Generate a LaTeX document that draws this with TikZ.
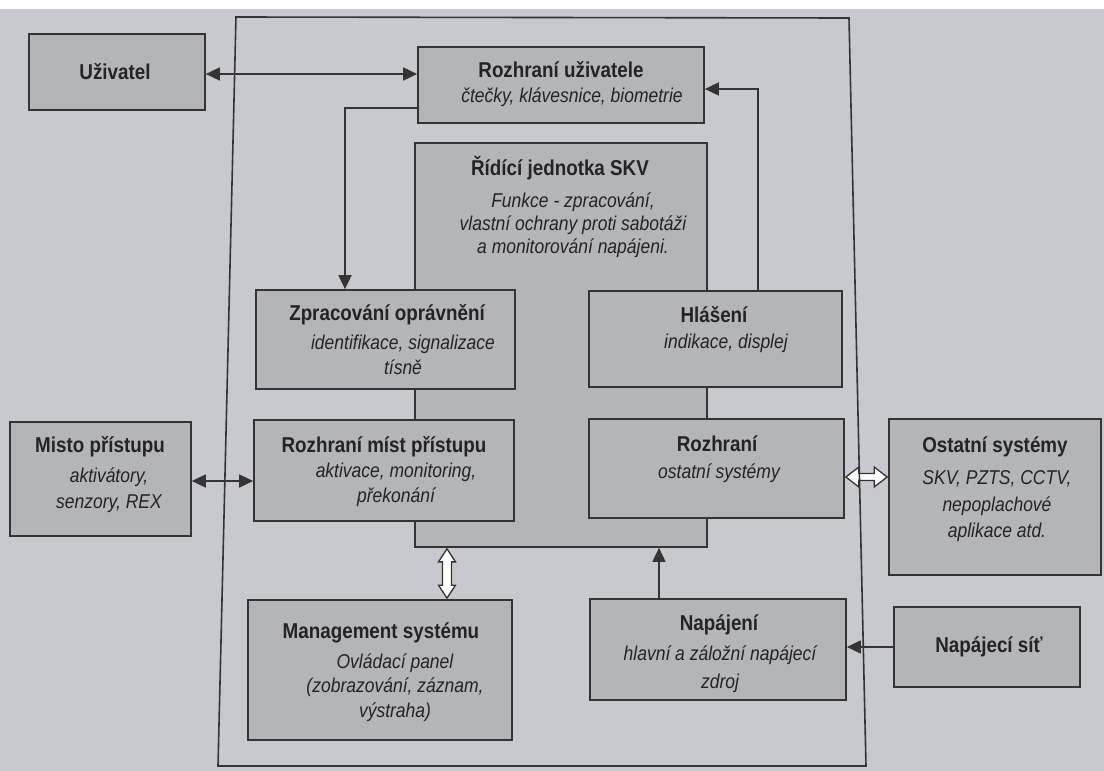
\documentclass[tikz,border=0pt]{standalone}
\usepackage{fontspec}
\setmainfont{Liberation Sans}
\newfontfamily\narrowfont[FakeStretch=0.875]{Liberation Sans}
\usetikzlibrary{arrows.meta,calc}
\definecolor{pagebg}{RGB}{199,201,207}
\definecolor{boxbg}{RGB}{180,181,185}
\definecolor{linec}{RGB}{52,52,55}
\definecolor{textc}{RGB}{36,36,38}
\tikzset{
  box/.style={draw=linec, fill=boxbg, line width=1.7pt, inner sep=0pt, rectangle},
  ttl/.style={font=\narrowfont\bfseries\fontsize{21.5}{25}\selectfont, text=textc, inner sep=0pt},
  sub/.style={font=\narrowfont\itshape\fontsize{20}{#1}\selectfont, text=textc, inner sep=0pt, align=center},
  sub/.default=24,
  arr/.style={draw=linec, line width=1.7pt, -{Triangle[length=14pt,width=13pt]}},
  biarr/.style={draw=linec, line width=1.7pt, {Triangle[length=14pt,width=13pt]}-{Triangle[length=14pt,width=13pt]}},
  hollow/.style={draw=linec, fill=white, line width=1.3pt, line join=miter},
  frame/.style={draw=linec, line width=1.6pt}
}
\newcommand{\bx}[5]{\node[box, minimum width={#4-#2}, minimum height={#5-#3}] (#1) at ({(#2+#4)/2},{(#3+#5)/2}) {};}
\begin{document}
\begin{tikzpicture}[x=1pt,y=-1pt]
\fill[pagebg] (0,0) rectangle (1104,771);
\fill[white] (0,0) rectangle (1104,9);
\useasboundingbox (0,0) rectangle (1104,771);

% boxes
\bx{uziv}{29}{34}{205}{110}
\bx{rozu}{418}{47}{704}{123}
\bx{ridici}{415}{143}{707}{547}
\bx{zprac}{256}{290}{515}{389}
\bx{hlas}{589}{291}{842}{387}
\bx{rmist}{254}{420}{514}{521}
\bx{rozh}{589}{419}{844}{518}
\bx{misto}{10}{422}{191}{536}
\bx{ostat}{889}{419}{1101}{575}
\bx{mgmt}{248}{600}{512}{740}
\bx{napaj}{590}{599}{846}{700}
\bx{sit}{894}{607}{1080}{687}

% texts
\node[ttl] (t-uziv) at (115,72) {Uživatel};
\node[ttl] (t-rozu) at (561,70) {Rozhraní uživatele};
\node[sub] (s-rozu) at (572,97) {čtečky, klávesnice, biometrie};
\node[ttl] (t-ridici) at (560,168) {Řídící jednotka SKV};
\node[sub=23] (s-ridici) at (573,225) {Funkce - zpracování,\\vlastní ochrany proti sabotáži\\a monitorování napájeni.};
\node[ttl] (t-zprac) at (387,315) {Zpracování oprávnění};
\node[sub=25] (s-zprac) at (403,354.5) {identifikace, signalizace\\tísně};
\node[ttl] (t-hlas) at (714,315) {Hlášení};
\node[sub] (s-hlas) at (726,343) {indikace, displej};
\node[ttl] (t-rmist) at (384,447) {Rozhraní míst přístupu};
\node[sub=25] (s-rmist) at (396,484.5) {aktivace, monitoring,\\překonání};
\node[ttl] (t-rozh) at (717,444) {Rozhraní};
\node[sub] (s-rozh) at (719,473) {ostatní systémy};
\node[ttl] (t-misto) at (100,447) {Misto přístupu};
\node[sub=26] (s-misto) at (109,490) {aktivátory,\\senzory, REX};
\node[ttl] (t-ostat) at (995,447) {Ostatní systémy};
\node[sub=26.5] (s-ostat) at (997,506.5) {SKV, PZTS, CCTV,\\nepoplachové\\aplikace atd.};
\node[ttl] (t-mgmt) at (381,633) {Management systému};
\node[sub=24.5] (s-mgmt) at (395,687.5) {Ovládací panel\\(zobrazování, záznam,\\výstraha)};
\node[ttl] (t-napaj) at (719,625) {Napájení};
\node[sub=28] (s-napaj) at (720,669) {hlavní a záložní napájecí\\zdroj};
\node[ttl] (t-sit) at (989,647) {Napájecí síť};

% connectors
\coordinate (c1) at (345,108);
\coordinate (c2) at (758,89);
\coordinate (c3) at (0,481);
\coordinate (c4) at (0,477);
\coordinate (c5) at (447,0);
\coordinate (c6) at (659,0);
\coordinate (c7) at (0,647);

\draw[biarr] ([yshift=-2pt]uziv.east) -- ([yshift=-2pt]uziv.east -| rozu.west);
\draw[arr] (c1 -| rozu.west) -- (c1) -- (c1 |- zprac.north);
\draw[arr] (c2 |- hlas.north) -- (c2) -- (c2 -| rozu.east);
\draw[biarr] (c3 -| misto.east) -- (c3 -| rmist.west);
\draw[arr] (c6 |- napaj.north) -- (c6 |- ridici.south);
\draw[arr] (c7 -| sit.west) -- (c7 -| napaj.east);

% hollow double arrows
\coordinate (ha) at ([xshift=1pt]c4 -| rozh.east);
\coordinate (hb) at ([xshift=-1pt]c4 -| ostat.west);
\draw[hollow] (ha) -- ($(ha)+(13,-10)$) -- ($(ha)+(13,-3.5)$) -- ($(hb)+(-13,-3.5)$) -- ($(hb)+(-13,-10)$)
  -- (hb) -- ($(hb)+(-13,10)$) -- ($(hb)+(-13,3.5)$) -- ($(ha)+(13,3.5)$) -- ($(ha)+(13,10)$) -- cycle;
\coordinate (va) at ([yshift=-1pt]c5 |- ridici.south);
\coordinate (vb) at ([yshift=1pt]c5 |- mgmt.north);
\draw[hollow] (va) -- ($(va)+(8.5,13)$) -- ($(va)+(4.5,13)$) -- ($(vb)+(4.5,-13)$) -- ($(vb)+(8.5,-13)$)
  -- (vb) -- ($(vb)+(-8.5,-13)$) -- ($(vb)+(-4.5,-13)$) -- ($(va)+(-4.5,13)$) -- ($(va)+(-8.5,13)$) -- cycle;

% outer frame (photographed slightly skewed)
\coordinate (f1) at (236,17);
\coordinate (f2) at (849,18);
\coordinate (f3) at (866,766);
\coordinate (f4) at (218,766);
\draw[frame] (f1) -- (f2) -- (f3) -- (f4) -- cycle;
\end{tikzpicture}
\end{document}
